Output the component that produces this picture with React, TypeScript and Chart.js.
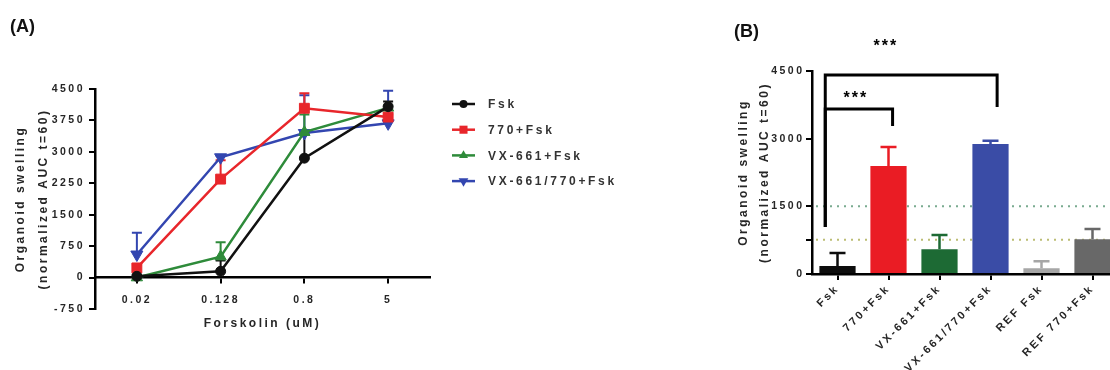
import React, { useEffect, useRef } from 'react';
import { Chart, registerables } from 'chart.js';

Chart.register(...registerables);

// ---------- Panel A data ----------
const doses = ['0.02', '0.128', '0.8', '5'];
const seriesNames = ['Fsk', '770+Fsk', 'VX-661+Fsk', 'VX-661/770+Fsk'];
const fskMean = [30, 150, 2850, 4080];
const fskErr = [40, 260, 600, 120];
const ivaMean = [230, 2350, 4040, 3830];
const ivaErr = [80, 450, 360, 60];
const tezMean = [0, 500, 3470, 4050];
const tezErr = [20, 340, 420, 50];
const comboMean = [550, 2870, 3450, 3680];
const comboErr = [520, 40, 900, 780];
const yTicksA = [-750, 0, 750, 1500, 2250, 3000, 3750, 4500];

// ---------- Panel B data ----------
const barLabels = ['Fsk', '770+Fsk', 'VX-661+Fsk', 'VX-661/770+Fsk', 'REF Fsk', 'REF 770+Fsk'];
const barMean = [180, 2395, 550, 2880, 130, 770];
const barErr = [285, 420, 315, 75, 155, 225];
const yTicksB = [0, 750, 1500, 3000, 4500];
const yLabelsB = ['0', '', '1500', '3000', '4500'];
const refLevels = [1500, 760];
// significance brackets
const bracketLevels = [4410, 3660];
const bracketLeftEnds = [1040, 1040];
const bracketRightEnds = [3700, 3280];
const bracketFrom = [-0.24, -0.24];
const bracketTo = [3.13, 1.08];
const starAt = [0.95, 0.36];
const starLevels = [5120, 3970];
const starText = ['***', '***'];

const FAMILY = "'Liberation Sans', Arial, sans-serif";
const TEXT = '#262626';

const colorsA = ['#111111', '#e8262b', '#2e8b3a', '#3346b0'];
const stylesA = ['circle', 'rect', 'triangle', 'triangle'];
const rotA = [0, 0, 0, 180];
const radA = [5, 7, 6.5, 7];

const barColors = ['#0d0d0d', '#ea1c24', '#1d6a34', '#3a4ca6', '#a6a6a6', '#686868'];

function spacingPlugin(px: string) {
  const set = (c: any) => { c.ctx.letterSpacing = px; };
  return { id: 'spacing', afterInit: set, beforeLayout: set, beforeDraw: set } as any;
}

function drawMarker(ctx: CanvasRenderingContext2D, style: string, rot: number, x: number, y: number, r: number, color: string) {
  ctx.save();
  ctx.translate(x, y);
  ctx.rotate((rot * Math.PI) / 180);
  ctx.fillStyle = color;
  ctx.beginPath();
  if (style === 'circle') ctx.arc(0, 0, r, 0, Math.PI * 2);
  else if (style === 'rect') ctx.rect(-r * 0.72, -r * 0.72, r * 1.44, r * 1.44);
  else {
    ctx.moveTo(0, -r);
    ctx.lineTo(r * 0.866, r * 0.5);
    ctx.lineTo(-r * 0.866, r * 0.5);
    ctx.closePath();
  }
  ctx.fill();
  ctx.restore();
}

const errorsA = [fskErr, ivaErr, tezErr, comboErr];

const errorBarsA = {
  id: 'errorBarsA',
  beforeDatasetsDraw(chart: any) {
    const { ctx } = chart;
    const x = chart.scales.x;
    const y = chart.scales.y;
    for (let i = chart.data.datasets.length - 1; i >= 0; i--) {
      const ds = chart.data.datasets[i];
      errorsA[i].forEach((e: number, j: number) => {
        const px = x.getPixelForValue(j);
        const y0 = y.getPixelForValue(ds.data[j]);
        const y1 = y.getPixelForValue(ds.data[j] + e);
        ctx.save();
        ctx.strokeStyle = ds.borderColor;
        ctx.lineWidth = 2;
        ctx.beginPath();
        ctx.moveTo(px, y0);
        ctx.lineTo(px, y1);
        ctx.moveTo(px - 5, y1);
        ctx.lineTo(px + 5, y1);
        ctx.stroke();
        ctx.restore();
      });
    }
  },
};

const legendA = {
  id: 'legendA',
  afterDraw(chart: any) {
    const { ctx, chartArea } = chart;
    const x0 = chartArea.right + 22;
    const y0 = chartArea.top + 15;
    chart.data.datasets.forEach((ds: any, i: number) => {
      const cy = y0 + i * 25.7;
      ctx.save();
      ctx.strokeStyle = ds.borderColor;
      ctx.lineWidth = 2.5;
      ctx.beginPath();
      ctx.moveTo(x0, cy);
      ctx.lineTo(x0 + 23, cy);
      ctx.stroke();
      drawMarker(ctx, stylesA[i], rotA[i], x0 + 11.5, cy, radA[i] * 0.8, ds.borderColor);
      ctx.fillStyle = '#333';
      ctx.font = `bold 12px ${FAMILY}`;
      ctx.letterSpacing = '2.7px';
      ctx.textAlign = 'left';
      ctx.textBaseline = 'middle';
      ctx.fillText(ds.label, x0 + 36, cy + 1);
      ctx.restore();
    });
  },
};

const errorBarsB = {
  id: 'errorBarsB',
  beforeDatasetsDraw(chart: any) {
    const { ctx, chartArea } = chart;
    const x = chart.scales.x;
    const y = chart.scales.y;
    const refColors = ['#7aab90', '#bcbd74'];
    refLevels.forEach((lv, k) => {
      const py = y.getPixelForValue(lv);
      ctx.save();
      ctx.strokeStyle = refColors[k];
      ctx.lineWidth = 2;
      ctx.setLineDash([2, 5]);
      ctx.beginPath();
      ctx.moveTo(chartArea.left + 4, py);
      ctx.lineTo(chartArea.right, py);
      ctx.stroke();
      ctx.restore();
    });
    barMean.forEach((v, j) => {
      const px = x.getPixelForValue(j);
      const y0 = y.getPixelForValue(v);
      const y1 = y.getPixelForValue(v + barErr[j]);
      ctx.save();
      ctx.strokeStyle = barColors[j];
      ctx.lineWidth = 2.5;
      ctx.beginPath();
      ctx.moveTo(px, y0);
      ctx.lineTo(px, y1);
      ctx.moveTo(px - 8, y1);
      ctx.lineTo(px + 8, y1);
      ctx.stroke();
      ctx.restore();
    });
  },
  afterDatasetsDraw(chart: any) {
    const { ctx } = chart;
    const x = chart.scales.x;
    const y = chart.scales.y;
    const step = x.getPixelForValue(1) - x.getPixelForValue(0);
    const px = (v: number) => x.getPixelForValue(0) + v * step;
    bracketLevels.forEach((lv, k) => {
      ctx.save();
      ctx.strokeStyle = '#000';
      ctx.lineWidth = 3;
      ctx.lineJoin = 'miter';
      ctx.beginPath();
      ctx.moveTo(px(bracketFrom[k]), y.getPixelForValue(bracketLeftEnds[k]));
      ctx.lineTo(px(bracketFrom[k]), y.getPixelForValue(lv));
      ctx.lineTo(px(bracketTo[k]), y.getPixelForValue(lv));
      ctx.lineTo(px(bracketTo[k]), y.getPixelForValue(bracketRightEnds[k]));
      ctx.stroke();
      ctx.fillStyle = '#000';
      ctx.font = `bold 16px ${FAMILY}`;
      ctx.letterSpacing = '2px';
      ctx.textAlign = 'center';
      ctx.textBaseline = 'middle';
      ctx.fillText(starText[k], px(starAt[k]), y.getPixelForValue(starLevels[k]) + 4);
      ctx.restore();
    });
  },
};

const tickFont = { size: 10.5, weight: 'bold' as const, family: FAMILY };

export default function App() {
  const refA = useRef<HTMLCanvasElement>(null);
  const refB = useRef<HTMLCanvasElement>(null);

  useEffect(() => {
    const meansA = [fskMean, ivaMean, tezMean, comboMean];
    const chartA = new Chart(refA.current as HTMLCanvasElement, {
      type: 'line',
      data: {
        labels: doses,
        datasets: seriesNames.map((name, i) => ({
          label: name,
          data: meansA[i],
          borderColor: colorsA[i],
          backgroundColor: colorsA[i],
          borderWidth: 2.5,
          tension: 0,
          fill: false,
          pointStyle: stylesA[i] as any,
          pointRotation: rotA[i],
          pointRadius: radA[i],
          pointBackgroundColor: colorsA[i],
          pointBorderColor: colorsA[i],
          pointBorderWidth: 1,
        })),
      },
      options: {
        responsive: false,
        animation: false,
        layout: { padding: { left: 0, top: 89, right: 290, bottom: 61 } },
        plugins: { legend: { display: false }, tooltip: { enabled: false } },
        scales: {
          x: {
            type: 'category',
            offset: true,
            position: { y: 0 } as any,
            grid: { display: true, drawOnChartArea: false, drawTicks: true, tickLength: 5, color: '#000', lineWidth: 2, offset: false },
            border: { display: true, color: '#000', width: 2.5 },
            ticks: { color: TEXT, font: tickFont, padding: 11, maxRotation: 0, autoSkip: false },
            title: { display: true, text: 'Forskolin (uM)', color: TEXT, font: { size: 12, weight: 'bold', family: FAMILY }, padding: { top: 0, bottom: 8 } },
            afterFit: (s: any) => { s.height = 61; },
          },
          y: {
            min: -750,
            max: 4500,
            afterBuildTicks: (s: any) => { s.ticks = yTicksA.map((v) => ({ value: v })); },
            grid: { display: true, drawOnChartArea: false, drawTicks: true, tickLength: 6, color: '#000', lineWidth: 2 },
            border: { display: true, color: '#000', width: 2.5 },
            ticks: { color: TEXT, font: tickFont, padding: 4, callback: (v: any) => String(v) },
            title: { display: true, text: ['Organoid swelling', '(normalized AUC t=60)'], color: TEXT, font: { size: 12, weight: 'bold', family: FAMILY, lineHeight: 1.9 }, padding: { top: 9, bottom: 0 } },
            afterFit: (s: any) => { s.width = 95; },
          },
        },
      },
      plugins: [spacingPlugin('2.5px'), errorBarsA, legendA],
    } as any);

    const chartB = new Chart(refB.current as HTMLCanvasElement, {
      type: 'bar',
      data: {
        labels: barLabels,
        datasets: [
          {
            label: 'AUC',
            data: barMean,
            backgroundColor: barColors,
            borderColor: barColors,
            borderWidth: 0,
            barPercentage: 0.71,
            categoryPercentage: 1,
          },
        ],
      },
      options: {
        responsive: false,
        animation: false,
        layout: { padding: { left: 0, top: 71, right: 22, bottom: 0 } },
        plugins: { legend: { display: false }, tooltip: { enabled: false } },
        scales: {
          x: {
            offset: true,
            grid: { display: true, drawOnChartArea: false, drawTicks: true, tickLength: 6, color: '#000', lineWidth: 2, offset: false },
            border: { display: true, color: '#000', width: 2.5 },
            ticks: { color: TEXT, font: { size: 11, weight: 'bold', family: FAMILY }, padding: 2, minRotation: 45, maxRotation: 45, autoSkip: false },
            afterFit: (s: any) => { s.height = 96; },
          },
          y: {
            min: 0,
            max: 4500,
            afterBuildTicks: (s: any) => { s.ticks = yTicksB.map((v) => ({ value: v })); },
            grid: { display: true, drawOnChartArea: false, drawTicks: true, tickLength: 6, color: '#000', lineWidth: 2 },
            border: { display: true, color: '#000', width: 2.5 },
            ticks: { color: TEXT, font: tickFont, padding: 1.5, callback: (_v: any, i: number) => yLabelsB[i] },
            title: { display: true, text: ['Organoid swelling', '(normalized AUC t=60)'], color: TEXT, font: { size: 12, weight: 'bold', family: FAMILY, lineHeight: 1.75 }, padding: { top: 13.5, bottom: 0 } },
            afterFit: (s: any) => { s.width = 92; },
          },
        },
      },
      plugins: [spacingPlugin('2.5px'), errorBarsB],
    } as any);

    return () => {
      chartA.destroy();
      chartB.destroy();
    };
  }, []);

  const panelLabel: React.CSSProperties = {
    position: 'absolute',
    font: `bold 18px ${FAMILY}`,
    color: '#111',
    lineHeight: '20px',
  };

  return (
    <div style={{ position: 'fixed', left: 0, top: 0, width: 1110, height: 370, overflow: 'hidden', background: '#fff' }}>
      <canvas ref={refA} width={720} height={370} style={{ position: 'absolute', left: 0, top: 0 }} />
      <canvas ref={refB} width={420} height={370} style={{ position: 'absolute', left: 720, top: 0 }} />
      <div style={{ ...panelLabel, left: 10, top: 16 }}>(A)</div>
      <div style={{ ...panelLabel, left: 734, top: 21 }}>(B)</div>
    </div>
  );
}
